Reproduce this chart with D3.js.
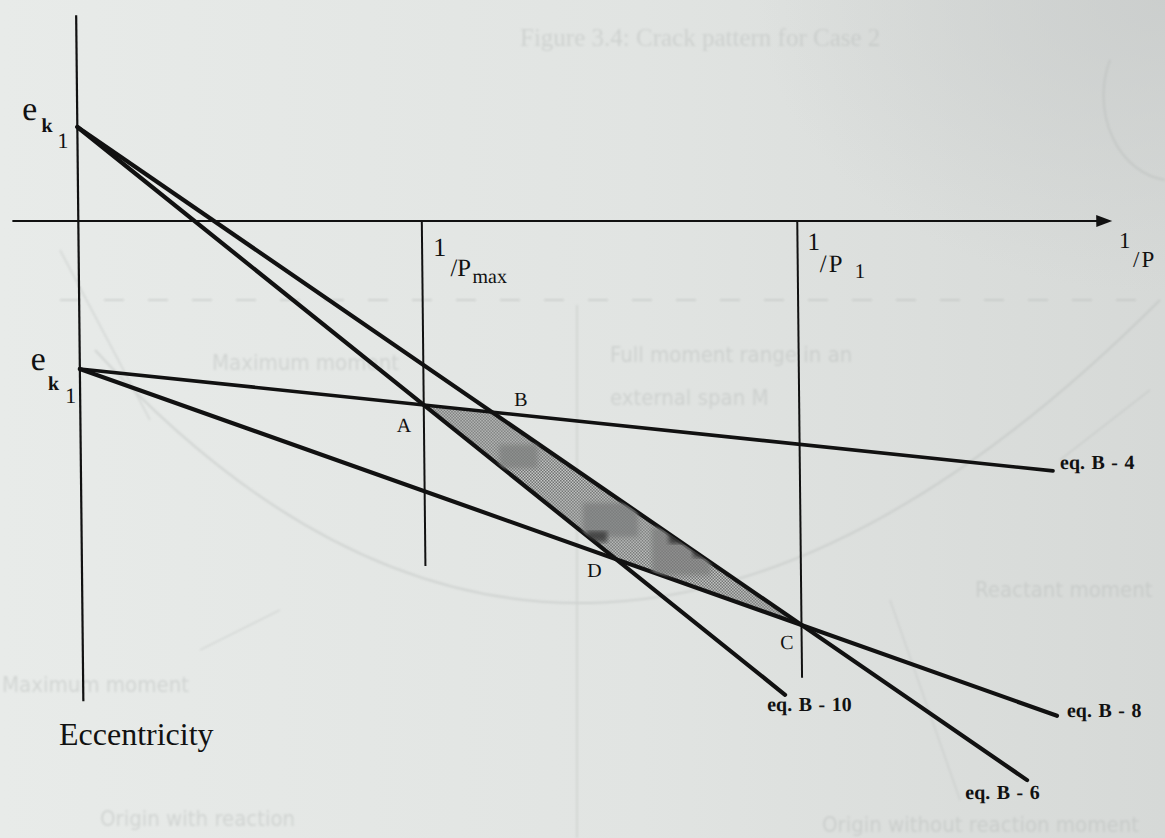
<!DOCTYPE html>
<html>
<head>
<meta charset="utf-8">
<script src="https://cdn.jsdelivr.net/npm/d3@7"></script>
<style>
  html, body { margin: 0; padding: 0; background: #e4e7e5; }
  svg { display: block; }
</style>
</head>
<body>
<svg id="fig" width="1165" height="838"></svg>
<script>
// Eccentricity against 1/P: the four limiting equations and the feasible region between them.

// e_k1 intercepts on the eccentricity axis
const ekValues = [1.0, -1.574];
// marked load levels on the 1/P axis: 1/Pmax and 1/P1
const loadMarks = [1.0, 2.093];
const loadMarkLow = [-3.67, -4.86];
// extents of the two axes (1/P and eccentricity units)
const xAxisExtent = [-0.192, 3.01];
const eAxisExtent = [2.19, -5.11];

// the four equations: eccentricity at 1/P = 0 and at the drawn end
const eqNames = ["eq. B - 10", "eq. B - 6", "eq. B - 4", "eq. B - 8"];
const eqStart = [1.0, 1.0, -1.574, -1.574];
const eqEndX  = [2.043, 2.745, 2.830, 2.834];
const eqEndE  = [-5.04, -5.948, -2.658, -5.263];

// corners of the feasible region, each the crossing of two equations
const cornerNames = ["A", "B", "C", "D"];
const cornerPairs = [[0, 2], [1, 2], [1, 3], [0, 3]];

// ---------- layout ----------
const W = 1165, H = 838;
const eqLabelOffset = { "eq. B - 10": [-18, 16], "eq. B - 6": [-62, 19], "eq. B - 4": [7, -2], "eq. B - 8": [10, 1] };
const cornerLabelOffset = { A: [-20, 27], B: [29, -6], C: [-15, 24], D: [-22, 18] };

const svg = d3.select("#fig");
const defs = svg.append("defs");

// paper tone
const bg = defs.append("linearGradient").attr("id", "paper").attr("x1", 0).attr("x2", 1).attr("y1", 0).attr("y2", 0);
bg.append("stop").attr("offset", 0).attr("stop-color", "#e8ebe9");
bg.append("stop").attr("offset", 0.55).attr("stop-color", "#e1e4e2");
bg.append("stop").attr("offset", 1).attr("stop-color", "#d6d9d7");
const corner = defs.append("radialGradient").attr("id", "cornerShade").attr("cx", 1).attr("cy", 0).attr("r", 0.35);
corner.append("stop").attr("offset", 0).attr("stop-color", "#c9cccb").attr("stop-opacity", 0.8);
corner.append("stop").attr("offset", 1).attr("stop-color", "#c9cccb").attr("stop-opacity", 0);

svg.append("rect").attr("width", W).attr("height", H).attr("fill", "url(#paper)");
svg.append("rect").attr("width", W).attr("height", H).attr("fill", "url(#cornerShade)");

// faint show-through from the facing page
defs.append("filter").attr("id", "soft").append("feGaussianBlur").attr("stdDeviation", 1.0);
const ghost = svg.append("g").attr("filter", "url(#soft)").attr("opacity", 0.42);
const ghostInk = "#b4b8b6";
const narrow = "Liberation Sans Narrow, DejaVu Sans Condensed, Arial Narrow, sans-serif";
ghost.append("line").attr("x1", 60).attr("x2", 1160).attr("y1", 300).attr("y2", 300)
  .attr("stroke", ghostInk).attr("stroke-width", 2).attr("stroke-dasharray", "20 24");
ghost.append("line").attr("x1", 577).attr("x2", 577).attr("y1", 305).attr("y2", 838)
  .attr("stroke", ghostInk).attr("stroke-width", 1.5);
ghost.append("path").attr("d", "M95,350 Q580,880 1160,300").attr("fill", "none")
  .attr("stroke", ghostInk).attr("stroke-width", 2);
ghost.append("path").attr("d", "M150,420 L60,250").attr("fill", "none").attr("stroke", ghostInk).attr("stroke-width", 1.5);
ghost.append("path").attr("d", "M1060,460 L1150,390").attr("fill", "none").attr("stroke", ghostInk).attr("stroke-width", 1.5);
ghost.append("path").attr("d", "M890,600 L960,800").attr("fill", "none").attr("stroke", ghostInk).attr("stroke-width", 1.2);
ghost.append("path").attr("d", "M200,650 L280,610").attr("fill", "none").attr("stroke", ghostInk).attr("stroke-width", 1.2);
ghost.append("path").attr("d", "M1110,60 A70,85 0 0,0 1165,180").attr("fill", "none").attr("stroke", ghostInk).attr("stroke-width", 2);
const ghostText = [
  { t: "Figure 3.4: Crack pattern for Case 2", x: 520, y: 46, s: 25, f: "Liberation Serif, serif" },
  { t: "Maximum moment", x: 212, y: 370, s: 22, f: narrow },
  { t: "Full moment range in an", x: 610, y: 362, s: 22, f: narrow },
  { t: "external span  M", x: 610, y: 405, s: 22, f: narrow },
  { t: "Reactant moment", x: 975, y: 597, s: 22, f: narrow },
  { t: "Maximum moment", x: 2, y: 692, s: 22, f: narrow },
  { t: "Origin with reaction", x: 100, y: 826, s: 22, f: narrow },
  { t: "Origin without reaction moment", x: 822, y: 832, s: 22, f: narrow }
];
ghost.selectAll("text.ghost").data(ghostText).join("text")
  .attr("class", "ghost")
  .attr("x", d => d.x).attr("y", d => d.y)
  .attr("font-family", d => d.f).attr("font-size", d => d.s)
  .attr("fill", ghostInk).text(d => d.t);

// dotted fill of the feasible region
const pat = defs.append("pattern").attr("id", "dots").attr("patternUnits", "userSpaceOnUse")
  .attr("width", 3).attr("height", 3);
pat.append("rect").attr("width", 3).attr("height", 3).attr("fill", "#c6c8c7");
pat.append("rect").attr("width", 1.5).attr("height", 1.5).attr("fill", "#6e706f");
pat.append("rect").attr("x", 1.5).attr("y", 1.5).attr("width", 1.5).attr("height", 1.5).attr("fill", "#6e706f");

// ---------- scales ----------
const x = d3.scaleLinear().domain([0, 1]).range([76, 419.5]);
const y = d3.scaleLinear().domain([0, 1]).range([221, 127]);

// the drawing is slightly sheared, as on the printed sheet
const g = svg.append("g").attr("transform", "skewX(0.6)");

const ink = "#111";
const serif = "Liberation Serif, Times New Roman, serif";

// equations as e = a + b * (1/P)
const eqs = eqNames.map((name, i) => ({
  name, a: eqStart[i], b: (eqEndE[i] - eqStart[i]) / eqEndX[i], x1: eqEndX[i], e1: eqEndE[i]
}));
const cross = (p, q) => {
  const xi = (q.a - p.a) / (p.b - q.b);
  return [xi, p.a + p.b * xi];
};
const corners = cornerPairs.map(([i, j], k) => {
  const [cx, ce] = cross(eqs[i], eqs[j]);
  return { name: cornerNames[k], x: cx, e: ce };
});

// feasible region
const regionLine = d3.line().x(d => x(d.x)).y(d => y(d.e));
defs.append("clipPath").attr("id", "region").append("path")
  .attr("d", regionLine(corners) + "Z").attr("transform", "skewX(0.6)");
g.append("path").attr("d", regionLine(corners) + "Z").attr("fill", "url(#dots)");

// darker smudges inside the dotted region
defs.append("filter").attr("id", "smudge").append("feGaussianBlur").attr("stdDeviation", 2.2);
const smudges = [
  [1.218, 1.33, -2.38, -2.63, "#7d7f7e"],
  [1.46, 1.62, -3.0, -3.36, "#7a7c7b"],
  [1.66, 1.83, -3.26, -3.77, "#7b7d7c"],
  [1.71, 1.78, -3.27, -3.43, "#1b1b1b"],
  [1.78, 1.83, -3.43, -3.58, "#222"],
  [1.47, 1.53, -3.3, -3.42, "#2a2a2a"]
];
const smudgeG = svg.append("g").attr("clip-path", "url(#region)")
  .append("g").attr("transform", "skewX(0.6)");
smudgeG.selectAll("rect").data(smudges).join("rect")
  .attr("x", d => x(d[0])).attr("width", d => x(d[1]) - x(d[0]))
  .attr("y", d => y(d[2])).attr("height", d => y(d[3]) - y(d[2]))
  .attr("fill", d => d[4]).attr("opacity", 0.7).attr("filter", "url(#smudge)");

// axes
g.append("line")
  .attr("x1", x(0)).attr("x2", x(0))
  .attr("y1", y(eAxisExtent[0])).attr("y2", y(eAxisExtent[1]))
  .attr("stroke", ink).attr("stroke-width", 2.2);
g.append("line")
  .attr("x1", x(xAxisExtent[0])).attr("x2", x(xAxisExtent[1]) - 10)
  .attr("y1", y(0)).attr("y2", y(0))
  .attr("stroke", ink).attr("stroke-width", 2.2);
const tip = x(xAxisExtent[1]);
g.append("path")
  .attr("d", `M${tip},${y(0)} L${tip - 16},${y(0) - 6} L${tip - 16},${y(0) + 6} Z`)
  .attr("fill", ink);

// reference lines at 1/Pmax and 1/P1
g.selectAll("line.ref").data(loadMarks).join("line")
  .attr("class", "ref")
  .attr("x1", d => x(d)).attr("x2", d => x(d))
  .attr("y1", y(0)).attr("y2", (d, i) => y(loadMarkLow[i]))
  .attr("stroke", ink).attr("stroke-width", 2);

// the four equations
g.selectAll("line.eq").data(eqs).join("line")
  .attr("class", "eq")
  .attr("x1", x(0)).attr("y1", d => y(d.a))
  .attr("x2", d => x(d.x1)).attr("y2", d => y(d.e1))
  .attr("stroke", ink).attr("stroke-width", (d, i) => i === 2 ? 3.6 : 4.2)
  .attr("stroke-linecap", "round");

// equation labels
g.selectAll("text.eqlab").data(eqs).join("text")
  .attr("class", "eqlab")
  .attr("x", d => x(d.x1) + eqLabelOffset[d.name][0])
  .attr("y", d => y(d.e1) + eqLabelOffset[d.name][1])
  .attr("font-family", serif).attr("font-weight", "bold")
  .attr("font-size", 20).attr("word-spacing", 1.5).attr("fill", ink)
  .text(d => d.name);

// corner letters
g.selectAll("text.corner").data(corners).join("text")
  .attr("class", "corner")
  .attr("x", d => x(d.x) + cornerLabelOffset[d.name][0])
  .attr("y", d => y(d.e) + cornerLabelOffset[d.name][1])
  .attr("text-anchor", "middle")
  .attr("font-family", serif).attr("font-size", 20).attr("fill", ink)
  .text(d => d.name);

// e_k1 labels on the eccentricity axis
const ekLayout = [
  { e: [21, -7, 34], k: [40, 5, 20], one: [56, 21, 22] },
  { e: [27, 1, 34], k: [44, 21, 20], one: [61, 34, 22] }
];
ekValues.forEach((v, i) => {
  const L = ekLayout[i];
  const t = g.append("text").attr("font-family", serif).attr("fill", ink);
  t.append("tspan").attr("x", L.e[0]).attr("y", y(v) + L.e[1]).attr("font-size", L.e[2]).text("e");
  t.append("tspan").attr("x", L.k[0]).attr("y", y(v) + L.k[1]).attr("font-size", L.k[2]).attr("font-weight", "bold").text("k");
  t.append("tspan").attr("x", L.one[0]).attr("y", y(v) + L.one[1]).attr("font-size", L.one[2]).text("1");
});

// 1/Pmax and 1/P1 labels
const pMaxLab = g.append("text").attr("font-family", serif).attr("fill", ink);
pMaxLab.append("tspan").attr("x", x(loadMarks[0]) + 11).attr("y", y(0) + 35).attr("font-size", 26).text("1");
pMaxLab.append("tspan").attr("x", x(loadMarks[0]) + 28).attr("y", y(0) + 55).attr("font-size", 25).text("/P");
pMaxLab.append("tspan").attr("x", x(loadMarks[0]) + 50).attr("y", y(0) + 62).attr("font-size", 20).text("max");

const p1Lab = g.append("text").attr("font-family", serif).attr("fill", ink);
p1Lab.append("tspan").attr("x", x(loadMarks[1]) + 10).attr("y", y(0) + 29).attr("font-size", 25).text("1");
p1Lab.append("tspan").attr("x", x(loadMarks[1]) + 22).attr("y", y(0) + 51).attr("font-size", 25).attr("letter-spacing", 2).text("/P");
p1Lab.append("tspan").attr("x", x(loadMarks[1]) + 57).attr("y", y(0) + 57).attr("font-size", 21).text("1");

// 1/P axis title
const axLab = svg.append("text").attr("font-family", serif).attr("fill", ink);
axLab.append("tspan").attr("x", 1119).attr("y", 248).attr("font-size", 23).text("1");
axLab.append("tspan").attr("x", 1133).attr("y", 267).attr("font-size", 23).attr("letter-spacing", 2).text("/P");

// eccentricity axis title
svg.append("text").attr("x", 59).attr("y", 745)
  .attr("font-family", serif).attr("font-size", 32).attr("fill", ink)
  .text("Eccentricity");
</script>
</body>
</html>
